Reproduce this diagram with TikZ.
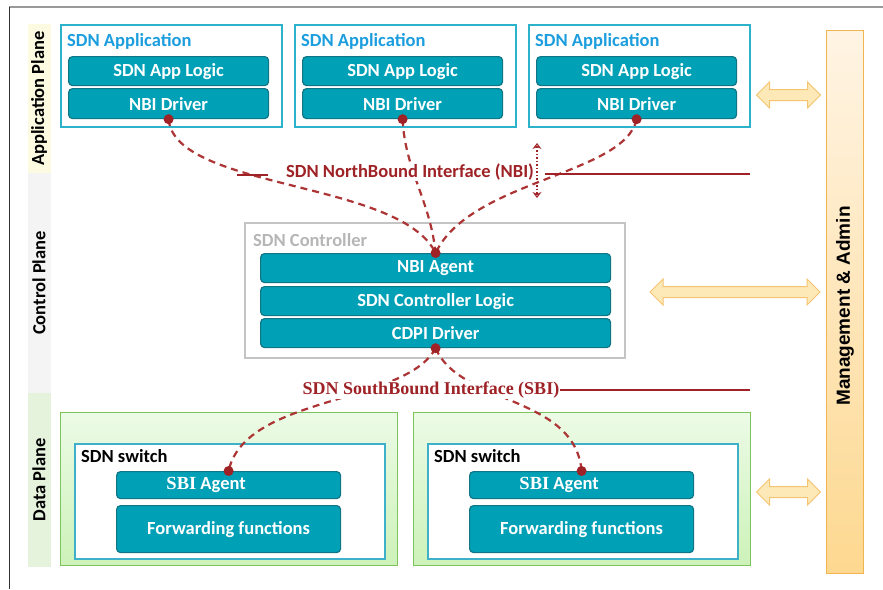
\documentclass[tikz,border=0pt]{standalone}
\usepackage{fontspec}
\setmainfont{Carlito}
\newfontfamily\sbifont{Liberation Serif}
\newfontfamily\mgmtfont{Liberation Sans}
\usetikzlibrary{shapes.arrows,arrows.meta}

\definecolor{layerfill}{RGB}{0,160,182}
\definecolor{layerline}{RGB}{16,118,134}
\definecolor{appline}{RGB}{45,178,204}
\definecolor{apptext}{RGB}{28,158,222}
\definecolor{ifred}{RGB}{158,34,38}
\definecolor{linkred}{RGB}{172,52,52}
\definecolor{ctrlline}{RGB}{196,196,196}
\definecolor{ctrltext}{RGB}{182,182,182}
\definecolor{dptop}{RGB}{236,251,230}
\definecolor{dpbot}{RGB}{205,242,185}
\definecolor{dpline}{RGB}{125,196,92}
\definecolor{swline}{RGB}{62,176,202}
\definecolor{mgmttop}{RGB}{255,244,228}
\definecolor{mgmtbot}{RGB}{253,216,144}
\definecolor{mgmtline}{RGB}{242,180,80}
\definecolor{arrfill}{RGB}{253,233,184}
\definecolor{arrline}{RGB}{244,196,112}
\definecolor{appstrip}{RGB}{252,250,224}
\definecolor{ctrlstrip}{RGB}{244,244,244}
\definecolor{datastrip}{RGB}{229,243,221}

\newcommand\bigfont{\fontsize{18.5}{21}\selectfont\bfseries}

\begin{document}
\begin{tikzpicture}[x=1pt,y=-1pt,
		layer/.style={draw=layerline, fill=layerfill, line width=1.2pt, rounded corners=4pt, anchor=north west, inner sep=0pt, text=white, font=\bigfont},
		appbox/.style={draw=appline, line width=2pt, fill=white, anchor=north west, minimum width=221pt, minimum height=102pt},
		boxtitle/.style={anchor=west, inner sep=0pt, font=\bigfont},
		planename/.style={rotate=90, minimum height=23pt, inner sep=0pt, font=\bigfont},
		nbilink/.style={draw=linkred, line width=2.2pt, dash pattern=on 7pt off 5pt},
		ifline/.style={draw=ifred, line width=2.5pt},
		reddot/.style={circle, fill=ifred, inner sep=0pt, minimum size=10pt},
		dblarrow/.style={double arrow, draw=arrline, fill=arrfill, line width=1pt, inner xsep=0pt, inner ysep=5pt, double arrow head extend=7.5pt}]
	\useasboundingbox (0,0) rectangle (883,589);
	\draw[gray!80, line width=2pt] (9,7) -- (883,7);
	\draw[black!80, line width=1pt] (9,7) -- (9,589);

	\node[planename, fill=appstrip, minimum width=149pt] (appplane) at (39,98.5) {Application Plane};
	\node[planename, fill=ctrlstrip, minimum width=220pt] (ctrlplane) at (39,283) {Control Plane};
	\node[planename, fill=datastrip, minimum width=174pt] (dataplane) at (39,480) {Data Plane};

	\foreach \i/\x in {1/60, 2/294, 3/528} {
		\node[appbox] (app\i) at (\x,24) {};
		\node[boxtitle, text=apptext] (apptitle\i) at (\x+7,41) {SDN Application};
		\node[layer, minimum width=200pt, minimum height=29pt] (logic\i) at (\x+8,56) {SDN App Logic};
		\node[layer, minimum width=200pt, minimum height=30pt] (drv\i) at (\x+8,88) {NBI Driver};
	}

	\node[draw=ctrlline, line width=2pt, anchor=north west, minimum width=380pt, minimum height=135pt] (ctrl) at (244,222) {};
	\node[boxtitle, text=ctrltext] (ctrltitle) at (253,240) {SDN Controller};
	\node[layer, minimum width=350pt, minimum height=29pt] (nbiag) at (260,253) {NBI Agent};
	\node[layer, minimum width=350pt, minimum height=29pt] (ctlogic) at (260,286) {SDN Controller Logic};
	\node[layer, minimum width=350pt, minimum height=29pt] (cdpi) at (260,318) {CDPI Driver};

	\pgfmathsetmacro{\dx}{353}
	\foreach \i/\x in {1/0, 2/\dx} {
		\node[draw=dpline, line width=1.2pt, top color=dptop, bottom color=dpbot, anchor=north west, minimum width=337pt, minimum height=153pt] (dp\i) at (\x+60,412) {};
		\node[draw=swline, line width=2pt, fill=white, anchor=north west, minimum width=310pt, minimum height=115pt] (sw\i) at (\x+74,443) {};
		\node[boxtitle] (swtitle\i) at (\x+81,456) {SDN switch};
		\node[layer, minimum width=224pt, minimum height=27pt] (sbiag\i) at (\x+116,471) {\hspace*{-45pt}{\sbifont SBI} Agent};
		\node[layer, minimum width=224pt, minimum height=47pt] (fwd\i) at (\x+116,505) {Forwarding functions};
	}

	\node[minimum width=36pt, minimum height=542pt] (mgmt) at (845,302) {};
	\shade[top color=mgmttop, bottom color=mgmtbot] (mgmt.north west) rectangle (mgmt.south east);
	\draw[mgmtline, line width=1.2pt] (mgmt.north west) rectangle (mgmt.south east);
	\node[rotate=90, inner sep=0pt, font=\mgmtfont\fontsize{19}{22}\selectfont\bfseries] (mgmttext) at ([yshift=-4pt]mgmt.center) {Management \& Admin};
	\node[dblarrow, minimum height=64pt] (apparr) at (788.5,95) {};
	\node[dblarrow, minimum height=170pt] (ctrlarr) at (735,292) {};
	\node[dblarrow, minimum height=64pt] (dataarr) at (788.5,492) {};

	\draw[nbilink] (drv1.south) .. controls (175,190) and (400,180) .. (nbiag.north);
	\draw[nbilink] (drv2.south) .. controls (405,170) and (430,200) .. (nbiag.north);
	\draw[nbilink] (drv3.south) .. controls (625,175) and (470,180) .. (nbiag.north);
	\draw[nbilink] (cdpi.south) .. controls (405,405) and (245,395) .. (sbiag1.north);
	\draw[nbilink] (cdpi.south) .. controls (460,405) and (575,395) .. (sbiag2.north);

	\node[fill=white, inner sep=1pt, text=ifred, font=\bigfont] (nbi) at (410,172) {SDN NorthBound Interface (NBI)};
	\coordinate (nbileft) at (237,175);
	\coordinate (nbiright) at (750,174);
	\draw[ifline] (nbileft) -- +(31,0);
	\draw[ifline] (545,174) -- (nbiright);
	\coordinate (nbiup) at (537,143);
	\coordinate (nbidown) at (537,198);
	\draw[ifred, line width=1.5pt, dotted, {Stealth[length=6pt,width=9pt,open,line width=1.5pt]}-{Stealth[length=6pt,width=9pt,open,line width=1.5pt]}] (nbiup) -- (nbidown);

	\node[fill=white, inner sep=1pt, text=ifred, font=\sbifont\fontsize{18}{20}\selectfont\bfseries] (sbi) at (431,390) {SDN SouthBound Interface (SBI)};
	\coordinate (sbiright) at (750,390);
	\draw[ifline] (sbi.east) -- (sbiright);

	\foreach \n in {drv1.south, drv2.south, drv3.south, nbiag.north, cdpi.south, sbiag1.north, sbiag2.north}
		\node[reddot] at (\n) {};
\end{tikzpicture}
\end{document}
